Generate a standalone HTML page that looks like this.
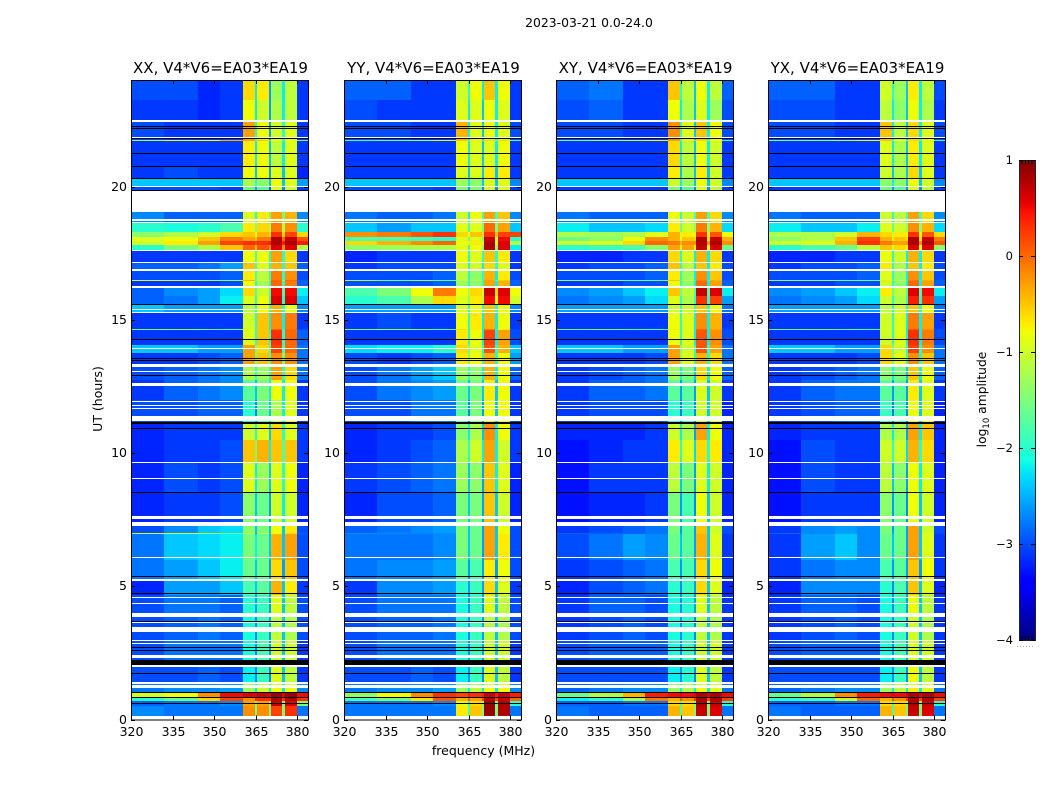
<!DOCTYPE html>
<html lang="en">
<head>
<meta charset="utf-8">
<title>2023-03-21 0.0-24.0</title>
<style>
html,body{margin:0;padding:0;background:#fff;}
svg{display:block;font-family:"DejaVu Sans","Liberation Sans",sans-serif;fill:#000;}
</style>
</head>
<body>
<svg id="figure" xmlns="http://www.w3.org/2000/svg" width="1050" height="800" viewBox="0 0 1050 800">
<text x="589" y="27" font-size="12.4" text-anchor="middle">2023-03-21 0.0-24.0</text>
<text x="483.5" y="755" font-size="12.5" text-anchor="middle">frequency (MHz)</text>
<text x="0" y="0" font-size="12.5" text-anchor="middle" transform="translate(102 399) rotate(-90)">UT (hours)</text>
<text x="0" y="0" font-size="12.3" text-anchor="middle" transform="translate(986 399.5) rotate(-90)">log<tspan font-size="8.5" dy="3">10</tspan><tspan dy="-3"> amplitude</tspan></text>
</svg>
<script>
// Data: frequency column edges (MHz) and time row edges (UT hours, top to bottom)
const freqEdges = [320,332,344,352,360.3,364.8,365.5,369.8,370.6,374.6,375.4,379.8,383.8];
const utEdges = [24,23.25,22.46,21.76,21.71,20.77,20.28,20.02,19.80,19.05,18.67,18.30,18.11,17.96,17.81,17.62,17.17,16.87,16.49,16.46,16.27,15.89,15.59,15.26,14.65,14.62,14.05,13.75,13.34,12.74,11.99,11.16,10.49,9.66,8.54,7.41,7.00,6.96,5.99,5.24,4.67,4.00,2.98,2.23,1.41,1.03,0.84,0.69,0.51,0];
const panelTitles = ["XX, V4*V6=EA03*EA19","YY, V4*V6=EA03*EA19","XY, V4*V6=EA03*EA19","YX, V4*V6=EA03*EA19"];
const xTicks = [320,335,350,365,380];
const yTicks = [0,5,10,15,20];
const colorbarTicks = [1,0,-1,-2,-3,-4];
const colorbarMinorTicks = [0.6,0.7,0.8,0.9];
const flaggedWhite = [[22.50,22.44],[21.86,21.82],[20.02,19.99],[19.82,19.05],[18.78,18.69],[18.67,18.63],[17.62,17.58],[17.17,17.13],[16.91,16.85],[16.27,16.18],[15.41,15.37],[15.29,15.26],[13.94,13.90],[13.34,13.23],[13.08,13.04],[12.63,12.52],[11.95,11.92],[11.80,11.77],[11.69,11.65],[11.39,11.20],[9.66,9.63],[9.06,9.03],[7.64,7.52],[7.41,7.26],[6.10,6.06],[5.27,5.20],[4.60,4.56],[4.37,4.33],[4.00,3.85],[3.66,3.62],[3.47,3.28],[2.98,2.95],[2.87,2.83],[2.42,2.31],[2.05,1.97],[1.41,1.33],[1.29,1.18],[0.13,0]];
const flaggedBlack = [[22.27,22.24],[22.20,22.16],[21.82,21.78],[21.26,21.22],[20.77,20.74],[20.32,20.27],[19.86,19.83],[15.59,15.56],[14.28,14.24],[13.57,13.53],[13.49,13.45],[12.93,12.90],[11.16,11.09],[10.94,10.90],[8.54,8.50],[5.39,5.35],[4.75,4.71],[3.70,3.66],[2.72,2.68],[2.61,2.57],[2.23,2.05],[1.75,1.71],[1.03,1.00],[0.84,0.81],[0.62,0.58]];
// log10 amplitude x 10, one row per time band, one value per frequency column
const xxValues = [
[-30,-30,-32,-31,-6,-22,-7,-26,-13,-22,-11,-31],
[-31,-31,-32,-31,-8,-22,-10,-26,-12,-22,-11,-31],
[-30,-31,-31,-31,-3,-20,-8,-26,-10,-20,-9,-31],
[-14,-9,-8,-4,-3,-15,-5,-15,-8,-15,-8,-15],
[-31,-31,-31,-31,-7,-22,-8,-24,-11,-22,-9,-31],
[-31,-30,-31,-31,-8,-24,-8,-26,-9,-24,-9,-32],
[-24,-24,-24,-24,-12,-20,-14,-24,-8,-24,-9,-26],
[-30,-30,-30,-31,-16,-26,-17,-29,-9,-27,-10,-31],
[-31,-31,-31,-31,-31,-31,-31,-31,-31,-31,-31,-31],
[-27,-29,-29,-29,-9,-20,-7,-15,-3,-15,-4,-27],
[-20,-21,-20,-18,-7,-15,-6,-12,-1,-12,-2,-20],
[-14,-12,-10,-6,-5,-8,-4,-6,3,-6,2,-6],
[-9,-8,-5,-1,-3,-5,-1,-1,8,0,7,1],
[-10,-7,-3,2,3,2,3,4,8,4,8,4],
[-20,-15,-12,-5,0,-5,1,-2,6,-2,6,-12],
[-31,-31,-31,-31,-8,-18,-8,-20,-3,-20,-6,-31],
[-29,-29,-28,-26,-5,-18,-9,-20,-4,-20,-5,-29],
[-30,-30,-30,-29,-7,-18,-11,-20,-1,-20,-2,-30],
[-10,-10,-12,-14,-4,-15,-9,-15,0,-15,0,-29],
[-31,-31,-31,-30,-8,-20,-13,-20,0,-20,-1,-29],
[-29,-27,-26,-23,-6,-18,-10,-18,5,-18,5,-22],
[-29,-28,-26,-22,-9,-20,-8,-20,6,-20,6,-24],
[-24,-26,-26,-26,-11,-20,-8,-20,-4,-20,-8,-27],
[-31,-31,-31,-31,-10,-20,-5,-22,-2,-22,-1,-31],
[-15,-14,-16,-18,-8,-20,-5,-20,0,-20,0,-30],
[-31,-31,-31,-31,-9,-20,-5,-20,3,-20,0,-29],
[-24,-24,-26,-26,-3,-15,-6,-18,2,-18,0,-28],
[-31,-31,-30,-29,-3,-15,-5,-18,-2,-15,-2,-28],
[-30,-29,-28,-27,-12,-20,-13,-20,-3,-20,-6,-28],
[-31,-29,-28,-27,-17,-24,-15,-22,-8,-22,-8,-31],
[-30,-30,-29,-29,-20,-27,-16,-24,-12,-22,-9,-31],
[-32,-31,-31,-31,-10,-20,-9,-24,-6,-20,-9,-31],
[-32,-31,-31,-30,-5,-15,-4,-22,-5,-18,-5,-31],
[-32,-30,-31,-30,-9,-22,-13,-24,-9,-20,-8,-32],
[-32,-31,-31,-30,-14,-24,-16,-26,-10,-22,-10,-32],
[-30,-27,-24,-23,-14,-24,-15,-24,-8,-24,-7,-30],
[-10,-10,-12,-16,-12,-26,-12,-24,-8,-24,-6,-29],
[-28,-24,-23,-22,-15,-22,-16,-24,-4,-24,-3,-30],
[-28,-26,-24,-22,-16,-24,-16,-26,-6,-26,-5,-30],
[-32,-26,-26,-24,-18,-24,-17,-24,-4,-24,-7,-31],
[-30,-28,-28,-29,-20,-26,-19,-26,-9,-24,-11,-30],
[-30,-29,-28,-29,-21,-27,-19,-26,-11,-24,-12,-30],
[-30,-28,-28,-28,-21,-27,-18,-26,-10,-24,-10,-31],
[-30,-30,-29,-30,-22,-27,-19,-27,-9,-24,-11,-31],
[-28,-27,-27,-26,-13,-22,-10,-22,-8,-22,-8,-27],
[-10,-8,-2,5,6,6,7,6,9,6,9,5],
[-20,-16,-6,2,-2,3,3,3,8,3,8,3],
[-29,-28,-28,-27,-3,-15,-3,-15,7,-15,6,-15],
[-27,-28,-28,-28,-2,-15,-2,-15,2,-15,3,-28]
];
const yyValues = [
[-29,-29,-31,-31,-10,-20,-8,-22,-5,-22,-8,-31],
[-30,-31,-31,-31,-9,-22,-9,-24,-8,-22,-9,-31],
[-30,-30,-31,-31,-4,-22,-9,-24,-8,-22,-9,-30],
[-18,-16,-14,-10,-5,-15,-7,-15,-6,-15,-6,-18],
[-31,-31,-31,-31,-8,-22,-9,-24,-9,-22,-8,-31],
[-31,-31,-31,-31,-9,-24,-9,-24,-7,-24,-7,-31],
[-24,-24,-24,-24,-13,-22,-14,-24,-9,-24,-9,-27],
[-30,-30,-30,-31,-15,-26,-15,-27,-9,-27,-9,-31],
[-31,-31,-31,-31,-31,-31,-31,-31,-31,-31,-31,-31],
[-28,-29,-29,-28,-10,-22,-8,-18,-3,-18,-5,-27],
[-24,-26,-24,-24,-9,-18,-9,-15,0,-15,-3,-24],
[-2,-1,1,3,-6,-8,-5,-6,3,-5,2,2],
[-18,-18,-19,-20,-9,-15,-9,-15,7,-12,5,-20],
[-6,-4,-2,0,-8,-10,-7,-10,8,-8,6,-12],
[-14,-13,-12,-12,-9,-18,-8,-14,8,-14,6,-22],
[-32,-31,-31,-31,-8,-20,-9,-20,-5,-20,-7,-31],
[-31,-30,-30,-30,-9,-20,-10,-22,-6,-20,-9,-31],
[-30,-30,-30,-29,-11,-20,-14,-20,-4,-22,-7,-30],
[-12,-16,-13,-16,-11,-18,-12,-18,-3,-18,-5,-29],
[-30,-30,-30,-29,-13,-20,-14,-20,-3,-22,-4,-29],
[-18,-15,-8,-1,-8,-12,-6,-10,7,-6,6,-8],
[-20,-18,-12,-6,-9,-14,-7,-12,5,-8,5,-10],
[-26,-26,-26,-26,-9,-20,-8,-20,-5,-20,-8,-27],
[-31,-30,-31,-31,-8,-20,-7,-22,-4,-22,-8,-31],
[-15,-14,-15,-18,-6,-20,-7,-22,-1,-20,-7,-30],
[-31,-31,-31,-31,-7,-20,-8,-22,2,-22,-3,-30],
[-23,-22,-22,-20,-6,-15,-9,-20,1,-20,-4,-24],
[-30,-31,-30,-29,-7,-15,-8,-20,-4,-20,-8,-26],
[-30,-28,-26,-24,-13,-20,-14,-22,-4,-22,-8,-29],
[-30,-28,-27,-26,-16,-24,-15,-24,-7,-24,-8,-31],
[-30,-30,-28,-28,-17,-27,-15,-26,-8,-24,-8,-31],
[-32,-31,-31,-30,-14,-22,-12,-24,-2,-22,-8,-31],
[-32,-31,-30,-29,-12,-20,-10,-22,-3,-22,-10,-31],
[-31,-30,-29,-28,-13,-24,-14,-26,-5,-22,-9,-32],
[-32,-30,-30,-29,-15,-24,-15,-26,-5,-24,-10,-32],
[-29,-28,-27,-26,-15,-24,-16,-26,-3,-24,-8,-30],
[-27,-27,-27,-27,-15,-24,-16,-26,-3,-24,-8,-30],
[-28,-28,-28,-27,-15,-24,-16,-26,-3,-24,-7,-30],
[-28,-27,-27,-26,-17,-26,-18,-26,-7,-26,-8,-30],
[-31,-27,-27,-26,-20,-26,-19,-26,-6,-24,-9,-31],
[-30,-28,-28,-28,-21,-27,-19,-26,-9,-24,-11,-30],
[-30,-29,-29,-28,-21,-27,-19,-26,-11,-24,-12,-30],
[-30,-28,-28,-28,-21,-27,-19,-26,-10,-24,-10,-31],
[-30,-30,-29,-30,-22,-27,-19,-27,-9,-24,-11,-31],
[-28,-27,-27,-26,-13,-22,-11,-22,-8,-22,-8,-27],
[-14,-8,-2,3,2,4,3,4,7,4,7,4],
[-18,-15,-7,1,-4,1,-3,2,8,2,7,0],
[-28,-28,-28,-27,-9,-20,-6,-15,9,-15,8,-20],
[-28,-28,-28,-28,-7,-18,-5,-15,9,-15,8,-28]
];
const xyValues = [
[-29,-28,-31,-31,-5,-20,-11,-24,-8,-22,-11,-29],
[-30,-29,-31,-31,-8,-22,-12,-24,-9,-22,-13,-30],
[-30,-30,-31,-31,-2,-20,-9,-24,-5,-22,-8,-30],
[-16,-14,-12,-8,-3,-15,-7,-15,-6,-15,-8,-18],
[-31,-31,-31,-31,-6,-22,-11,-24,-8,-22,-10,-31],
[-31,-31,-31,-31,-7,-24,-12,-24,-7,-24,-10,-31],
[-24,-24,-24,-24,-10,-22,-13,-24,-8,-24,-10,-27],
[-31,-31,-31,-31,-15,-26,-17,-27,-9,-27,-11,-31],
[-31,-31,-31,-31,-31,-31,-31,-31,-31,-31,-31,-31],
[-28,-29,-29,-29,-8,-20,-10,-18,-3,-18,-6,-27],
[-22,-24,-24,-23,-7,-16,-10,-14,-1,-14,-4,-23],
[-12,-13,-12,-9,-4,-10,-7,-9,3,-8,1,-8],
[-16,-14,-8,-2,-4,-8,-5,-6,8,-6,7,-4],
[-10,-9,-6,0,-1,-4,-2,-2,8,-2,8,-2],
[-20,-19,-18,-14,-3,-10,-3,-8,7,-8,6,-16],
[-32,-32,-31,-31,-6,-20,-9,-22,-4,-22,-6,-31],
[-31,-30,-30,-29,-5,-20,-11,-22,-5,-22,-7,-30],
[-30,-30,-30,-29,-7,-20,-13,-22,-2,-22,-5,-30],
[-14,-14,-16,-16,-5,-18,-11,-20,-1,-20,-4,-29],
[-31,-31,-30,-30,-8,-20,-14,-22,0,-22,-3,-29],
[-27,-26,-24,-22,-5,-16,-11,-18,7,-18,6,-22],
[-28,-27,-26,-23,-9,-20,-12,-20,3,-20,2,-26],
[-26,-26,-26,-26,-10,-20,-10,-20,-5,-20,-8,-28],
[-31,-31,-31,-31,-8,-20,-9,-22,-2,-22,-4,-31],
[-16,-15,-17,-19,-7,-20,-9,-22,0,-22,-3,-30],
[-31,-31,-31,-31,-8,-20,-9,-22,1,-22,-2,-30],
[-24,-24,-26,-26,-3,-15,-10,-20,1,-20,-3,-28],
[-31,-31,-31,-30,-3,-15,-9,-20,-4,-20,-6,-28],
[-31,-30,-29,-28,-13,-22,-15,-24,-6,-22,-8,-29],
[-31,-29,-29,-28,-17,-26,-17,-26,-9,-24,-10,-31],
[-31,-30,-30,-30,-20,-28,-19,-27,-10,-24,-10,-32],
[-32,-32,-32,-31,-10,-22,-12,-26,-3,-22,-8,-32],
[-33,-32,-31,-31,-7,-20,-9,-23,-6,-20,-7,-32],
[-33,-31,-31,-31,-11,-24,-15,-26,-9,-22,-10,-32],
[-33,-32,-32,-31,-15,-26,-18,-27,-8,-24,-10,-32],
[-31,-30,-29,-28,-15,-26,-17,-26,-5,-24,-10,-30],
[-29,-29,-29,-28,-15,-26,-17,-26,-5,-24,-9,-30],
[-30,-28,-26,-27,-16,-24,-17,-26,-4,-24,-9,-31],
[-31,-30,-29,-28,-18,-26,-18,-26,-6,-26,-8,-31],
[-32,-30,-29,-28,-20,-27,-19,-26,-6,-24,-9,-32],
[-31,-29,-29,-30,-21,-27,-20,-26,-9,-24,-11,-31],
[-31,-30,-29,-30,-21,-27,-20,-27,-11,-24,-12,-31],
[-30,-29,-29,-29,-21,-27,-19,-26,-10,-24,-10,-31],
[-30,-30,-30,-30,-22,-27,-20,-27,-9,-24,-11,-31],
[-29,-28,-27,-27,-13,-22,-12,-22,-8,-22,-9,-28],
[-16,-12,-4,4,5,6,5,6,8,6,8,5],
[-22,-20,-12,-1,-4,1,-2,2,8,2,8,2],
[-29,-29,-28,-28,-6,-18,-6,-15,8,-15,7,-20],
[-28,-29,-29,-29,-4,-18,-5,-15,7,-15,6,-28]
];
const yxValues = [
[-29,-29,-31,-31,-10,-20,-13,-24,-7,-22,-11,-30],
[-30,-30,-31,-31,-11,-22,-14,-24,-8,-22,-12,-31],
[-30,-30,-31,-31,-5,-22,-11,-24,-6,-22,-9,-30],
[-16,-15,-13,-9,-5,-15,-8,-15,-6,-15,-8,-18],
[-31,-31,-31,-31,-9,-22,-12,-24,-7,-22,-9,-31],
[-31,-31,-31,-31,-10,-24,-12,-24,-6,-24,-9,-31],
[-24,-24,-24,-24,-14,-22,-14,-24,-8,-24,-10,-27],
[-31,-31,-31,-31,-16,-26,-17,-27,-9,-27,-11,-31],
[-31,-31,-31,-31,-31,-31,-31,-31,-31,-31,-31,-31],
[-28,-29,-29,-29,-10,-20,-11,-18,-3,-18,-6,-27],
[-22,-24,-24,-22,-9,-16,-10,-14,-2,-14,-4,-23],
[-12,-12,-10,-4,-6,-10,-7,-8,3,-8,1,-6],
[-14,-12,-5,2,-4,-7,-5,-6,8,-6,7,-1],
[-10,-9,-4,3,-1,-3,-3,-2,8,-2,8,1],
[-20,-18,-16,-11,-5,-10,-6,-8,6,-8,6,-14],
[-32,-32,-31,-31,-8,-20,-10,-22,-4,-22,-6,-31],
[-31,-30,-30,-29,-7,-20,-12,-22,-5,-22,-7,-30],
[-30,-30,-30,-29,-9,-20,-13,-22,-2,-22,-5,-30],
[-14,-14,-16,-16,-7,-18,-11,-20,-1,-20,-4,-29],
[-31,-31,-30,-30,-10,-20,-14,-22,0,-22,-3,-29],
[-27,-26,-24,-22,-7,-16,-11,-18,6,-18,5,-22],
[-28,-27,-26,-23,-10,-20,-12,-20,4,-20,3,-26],
[-26,-26,-26,-26,-11,-20,-10,-20,-5,-20,-8,-28],
[-31,-31,-31,-31,-10,-20,-9,-22,-1,-22,-3,-31],
[-16,-15,-17,-19,-9,-20,-9,-22,1,-22,-2,-30],
[-31,-31,-31,-31,-10,-20,-9,-22,3,-22,-1,-30],
[-24,-24,-26,-26,-6,-15,-10,-20,2,-20,-2,-28],
[-31,-31,-31,-30,-6,-15,-9,-20,-2,-20,-5,-28],
[-31,-30,-29,-28,-14,-22,-15,-24,-5,-22,-8,-29],
[-31,-29,-28,-28,-17,-26,-17,-26,-7,-24,-9,-31],
[-31,-30,-29,-29,-19,-28,-18,-27,-8,-24,-9,-32],
[-32,-31,-31,-31,-12,-22,-12,-26,-3,-22,-5,-32],
[-33,-30,-31,-31,-10,-20,-10,-23,-4,-20,-6,-32],
[-33,-30,-31,-31,-11,-24,-14,-26,-8,-22,-9,-32],
[-33,-31,-31,-31,-14,-26,-16,-27,-8,-24,-10,-32],
[-31,-27,-26,-27,-15,-26,-16,-26,-3,-24,-10,-30],
[-29,-27,-26,-27,-15,-26,-16,-26,-3,-24,-9,-30],
[-31,-26,-24,-27,-16,-24,-16,-26,-3,-24,-9,-31],
[-31,-28,-27,-27,-18,-26,-17,-26,-5,-26,-8,-31],
[-32,-27,-27,-27,-20,-27,-18,-26,-5,-24,-9,-32],
[-31,-29,-29,-30,-21,-27,-19,-26,-8,-24,-11,-31],
[-31,-30,-29,-30,-21,-27,-19,-27,-10,-24,-12,-31],
[-30,-29,-29,-29,-21,-27,-18,-26,-9,-24,-10,-31],
[-30,-30,-30,-30,-22,-27,-19,-27,-8,-24,-11,-31],
[-29,-28,-27,-27,-13,-22,-11,-22,-7,-22,-9,-28],
[-16,-12,-2,4,5,6,5,6,8,6,8,5],
[-20,-18,-10,0,-4,1,-2,2,8,2,8,2],
[-29,-29,-28,-28,-6,-18,-6,-15,8,-15,7,-20],
[-28,-29,-29,-29,-4,-18,-5,-15,7,-15,6,-28]
];
const panelValues = [xxValues,yyValues,xyValues,yxValues];

const SVGNS = "http://www.w3.org/2000/svg";
const fig = document.getElementById("figure");
const panelLefts = [131,344,556,768];
const panelWidth = 177;
const plotTop = 80;
const plotBottom = 719.5;
const freqMin = 320, freqMax = 383.8, utMin = 0, utMax = 24;
const cbarLeft = 1019, cbarRight = 1035, cbarTop = 160, cbarBottom = 640, cbarMin = -4, cbarMax = 1;

function xScale(panel, f){ return panelLefts[panel] + (f - freqMin) / (freqMax - freqMin) * panelWidth; }
function yScale(t){ return plotBottom - (t - utMin) / (utMax - utMin) * (plotBottom - plotTop); }
function cbarScale(v){ return cbarBottom - (v - cbarMin) / (cbarMax - cbarMin) * (cbarBottom - cbarTop); }
function ramp(t, pts){
  for (let i = 1; i < pts.length; i++) {
    if (t <= pts[i][0]) {
      const a = pts[i-1], b = pts[i];
      return a[1] + (b[1] - a[1]) * (t - a[0]) / (b[0] - a[0]);
    }
  }
  return pts[pts.length-1][1];
}
function jet(v){
  const t = Math.max(0, Math.min(1, (v - cbarMin) / (cbarMax - cbarMin)));
  const r = ramp(t, [[0,0],[0.35,0],[0.66,1],[0.89,1],[1,0.5]]);
  const g = ramp(t, [[0,0],[0.125,0],[0.375,1],[0.64,1],[0.91,0],[1,0]]);
  const b = ramp(t, [[0,0.5],[0.11,1],[0.34,1],[0.65,0],[1,0]]);
  return "rgb(" + Math.round(r*255) + "," + Math.round(g*255) + "," + Math.round(b*255) + ")";
}
function makeRect(parent, x, y, w, h, fill){
  const el = document.createElementNS(SVGNS, "rect");
  el.setAttribute("x", x);
  el.setAttribute("y", y);
  el.setAttribute("width", w);
  el.setAttribute("height", h);
  el.setAttribute("fill", fill);
  el.setAttribute("shape-rendering", "crispEdges");
  parent.appendChild(el);
  return el;
}
function makeLine(parent, x1, y1, x2, y2){
  const el = document.createElementNS(SVGNS, "line");
  el.setAttribute("x1", x1);
  el.setAttribute("y1", y1);
  el.setAttribute("x2", x2);
  el.setAttribute("y2", y2);
  el.setAttribute("stroke", "#000");
  el.setAttribute("stroke-width", "1");
  el.setAttribute("shape-rendering", "crispEdges");
  parent.appendChild(el);
  return el;
}
function makeText(parent, x, y, str, size, anchor){
  const el = document.createElementNS(SVGNS, "text");
  el.setAttribute("x", x);
  el.setAttribute("y", y);
  el.setAttribute("font-size", size);
  el.setAttribute("text-anchor", anchor);
  el.textContent = str;
  parent.appendChild(el);
  return el;
}
function label(v){ return String(v).replace("-", "\u2212"); }

panelValues.forEach(function(rows, p){
  const g = document.createElementNS(SVGNS, "g");
  
  
  fig.appendChild(g);

  rows.forEach(function(row, r){
    const y0 = Math.round(yScale(utEdges[r]));
    const y1 = Math.round(yScale(utEdges[r+1]));
    row.forEach(function(val, c){
      const x0 = Math.round(xScale(p, freqEdges[c]));
      const x1 = Math.round(xScale(p, freqEdges[c+1]));
      const cell = makeRect(g, x0, y0, x1 - x0, y1 - y0, jet(val / 10));
      
      
    });
  });

  const x0 = Math.round(xScale(p, freqMin));
  const x1 = Math.round(xScale(p, freqMax));
  flaggedWhite.forEach(function(b){
    const top = Math.round(yScale(b[0]));
    const h = Math.max(1, Math.round(yScale(b[1])) - top);
    const band = makeRect(g, x0, top, x1 - x0, h, "#fff");
    
    
  });
  flaggedBlack.forEach(function(b){
    const top = Math.round(yScale(b[0]));
    const h = Math.max(1, Math.round(yScale(b[1])) - top);
    const band = makeRect(g, x0, top, x1 - x0, h, "#000");
    
    
  });

  const frame = document.createElementNS(SVGNS, "rect");
  frame.setAttribute("x", x0 + 0.5);
  frame.setAttribute("y", plotTop + 0.5);
  frame.setAttribute("width", x1 - x0);
  frame.setAttribute("height", plotBottom - plotTop);
  frame.setAttribute("fill", "none");
  frame.setAttribute("stroke", "#000");
  
  
  frame.setAttribute("shape-rendering", "crispEdges");
  g.appendChild(frame);

  const title = makeText(g, (x0 + x1) / 2 + 1, 73, panelTitles[p], 15, "middle");
  
  

  xTicks.forEach(function(f){
    const x = Math.round(xScale(p, f)) + 0.5;
    const t1 = makeLine(g, x, plotBottom, x, plotBottom - 4);
    
    
    const t2 = makeLine(g, x, plotTop, x, plotTop + 4);
    
    
    const lab = makeText(g, x, 736, label(f), 12.5, "middle");
    
    
  });
  yTicks.forEach(function(t){
    const y = Math.round(yScale(t)) + 0.5;
    const t1 = makeLine(g, x0, y, x0 + 4, y);
    
    
    const t2 = makeLine(g, x1, y, x1 - 4, y);
    
    
    const lab = makeText(g, x0 - 4, y + 3.5, label(t), 12.5, "end");
    
    
  });
});

// Colorbar
const cb = document.createElementNS(SVGNS, "g");


fig.appendChild(cb);
for (let py = cbarTop; py < cbarBottom; py += 2) {
  const v = cbarMax - (py + 1 - cbarTop) / (cbarBottom - cbarTop) * (cbarMax - cbarMin);
  const s = makeRect(cb, cbarLeft, py, cbarRight - cbarLeft, 2, jet(v));
  
  
}
const cbFrame = document.createElementNS(SVGNS, "rect");
cbFrame.setAttribute("x", cbarLeft + 0.5);
cbFrame.setAttribute("y", cbarTop + 0.5);
cbFrame.setAttribute("width", cbarRight - cbarLeft);
cbFrame.setAttribute("height", cbarBottom - cbarTop);
cbFrame.setAttribute("fill", "none");
cbFrame.setAttribute("stroke", "#222");


cbFrame.setAttribute("shape-rendering", "crispEdges");
cb.appendChild(cbFrame);
colorbarTicks.forEach(function(v){
  const y = Math.round(cbarScale(v)) + 0.5;
  const a = makeLine(cb, cbarLeft, y, cbarLeft + 4, y);
  
  
  const b = makeLine(cb, cbarRight, y, cbarRight - 4, y);
  
  
  const lab = makeText(cb, 1013, y + 3.5, label(v), 11.5, "end");
  
  
});
colorbarMinorTicks.forEach(function(m, i){
  const x = cbarLeft + 3 + i * 3.3;
  const a = makeLine(cb, x, cbarTop, x, cbarTop + 4);
  
  
  const b = makeLine(cb, x, cbarBottom, x, cbarBottom - 4);
  
  
});
const dots = makeLine(cb, 1017, 646.5, 1035, 646.5);
dots.setAttribute("stroke", "#aaa");
dots.setAttribute("stroke-dasharray", "1 2");


</script>
</body>
</html>
